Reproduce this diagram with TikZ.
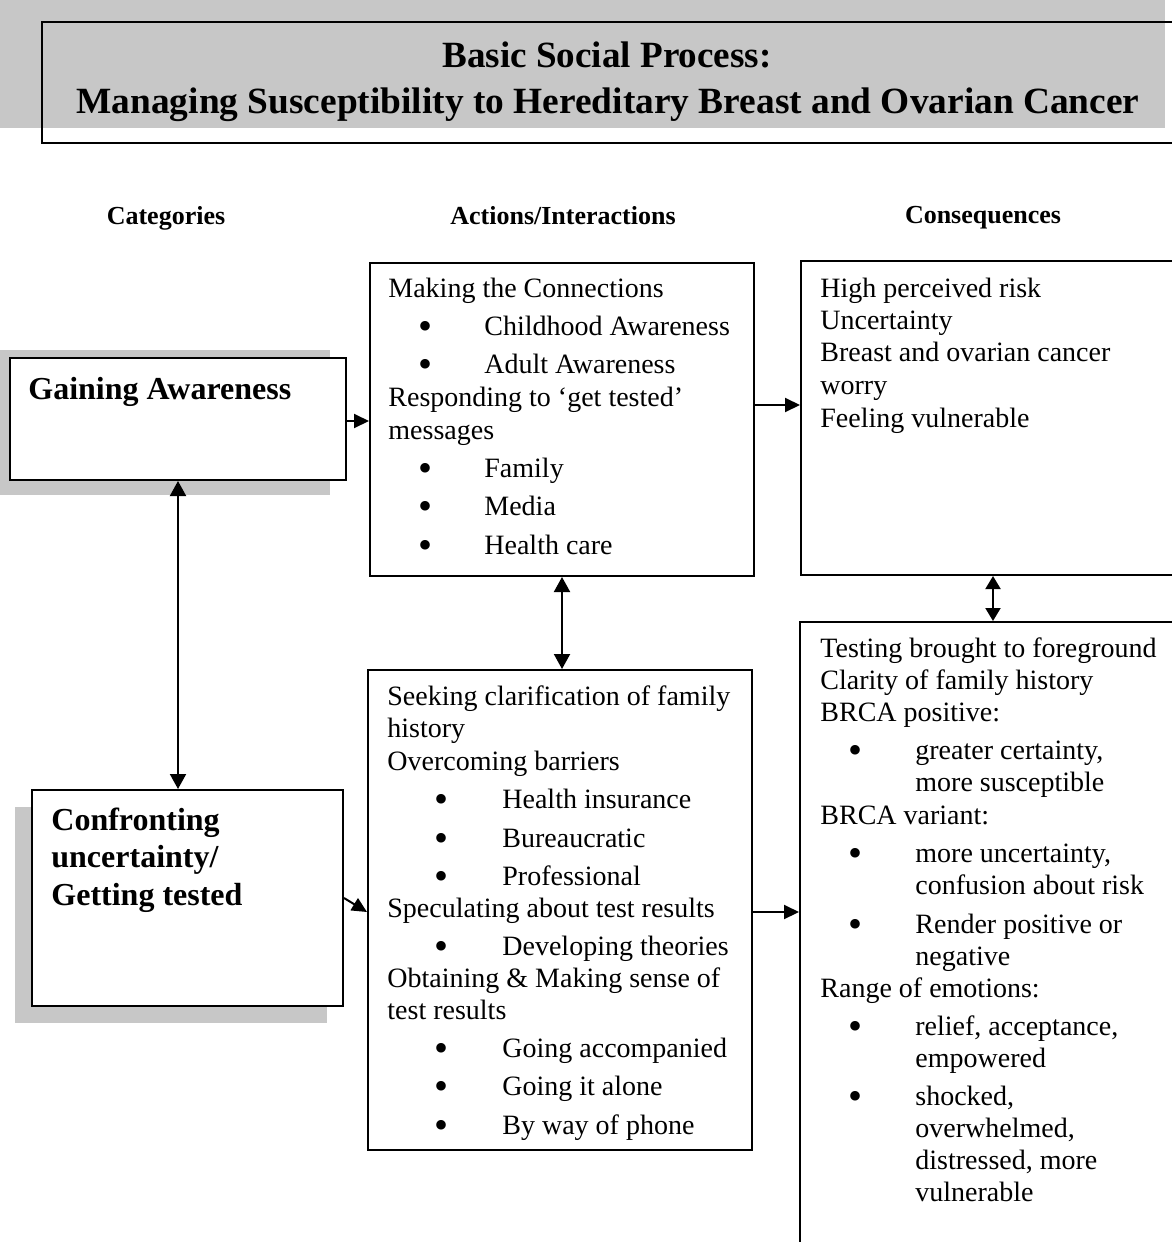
\documentclass[tikz,border=0pt]{standalone}
\usepackage{fontspec}
\usepackage{graphicx}
\setmainfont{Liberation Serif}
\usetikzlibrary{arrows.meta,fit}
\begin{document}
\begin{tikzpicture}[x=0.5pt,y=-0.5pt,
 box/.style={draw, line width=1pt, fill=white, inner sep=0pt},
 txt/.style={anchor=base west, inner sep=0pt, font=\fontsize{14}{16}\selectfont},
 bul/.style={anchor=base, inner sep=0pt, yshift=-2pt, font=\fontsize{20}{22}\selectfont},
 hdr/.style={anchor=base, inner sep=0pt, font=\fontsize{13}{15}\selectfont\bfseries},
 cat/.style={anchor=base west, inner sep=0pt, font=\fontsize{16}{18}\selectfont\bfseries},
 arr/.style={line width=1pt, -{Triangle[length=7.5pt,width=7pt]}},
 darr/.style={line width=1pt, {Triangle[length=7.5pt,width=8pt]}-{Triangle[length=7.5pt,width=8pt]}},
 sdarr/.style={line width=1pt, {Triangle[length=6.5pt,width=7.5pt]}-{Triangle[length=6.5pt,width=7.5pt]}},
 shade/.style={fill=black!22, draw=none}]
\useasboundingbox (0,0) rectangle (1172,1242);
\clip (0,0) rectangle (1172,1242);
% shading
\fill[shade] (0,0) rectangle (1165,128);
\fill[shade] (0,350) rectangle (330,495);
\fill[shade] (15,807) rectangle (327,1023);
% title
\node[draw, line width=1.3pt, inner sep=0pt, fit={(42,22) (1200,143)}] (title) {};
\node[anchor=base, inner sep=0pt] (t1) at (607,68) {\resizebox{164.5pt}{\height}{\fontsize{18.5}{20}\selectfont\bfseries Basic Social Process:}};
\node[anchor=base, inner sep=0pt] (t2) at (608,113) {\resizebox{531.5pt}{\height}{\fontsize{18.5}{20}\selectfont\bfseries Managing Susceptibility to Hereditary Breast and Ovarian Cancer}};
% headers
\node[hdr] (h1) at (166,224) {Categories};
\node[hdr] (h2) at (563,224) {Actions/Interactions};
\node[hdr] (h3) at (983,223) {Consequences};
% boxes
\node[box, fit={(10,358) (346,480)}] (gain) {};
\node[box, fit={(32,790) (343,1006)}] (conf) {};
\node[box, fit={(370,263) (754,576)}] (act1) {};
\node[box, fit={(368,670) (752,1150)}] (act2) {};
\node[box, fit={(801,261) (1185,575)}] (cons1) {};
\node[box, fit={(800,622) (1186,1270)}] (cons2) {};
% category texts
\node[cat] (g1) at (28,399) {Gaining Awareness};
\node[cat] (c1) at (51,830) {Confronting};
\node[cat] (c2) at (51,867) {uncertainty/};
\node[cat] (c3) at (51,905) {Getting tested};
% actions 1
\node[txt] (a1) at (388,297) {Making the Connections};
\node[bul] (ab1) at (425,335) {•};
\node[txt] (a2) at (484,335) {Childhood Awareness};
\node[bul] (ab2) at (425,373) {•};
\node[txt] (a3) at (484,373) {Adult Awareness};
\node[txt] (a4) at (388,406) {Responding to ‘get tested’};
\node[txt] (a5) at (388,439) {messages};
\node[bul] (ab3) at (425,477) {•};
\node[txt] (a6) at (484,477) {Family};
\node[bul] (ab4) at (425,515) {•};
\node[txt] (a7) at (484,515) {Media};
\node[bul] (ab5) at (425,554) {•};
\node[txt] (a8) at (484,554) {Health care};
% consequences 1
\node[txt] (k1) at (820,297) {High perceived risk};
\node[txt] (k2) at (820,329) {Uncertainty};
\node[txt] (k3) at (820,361) {Breast and ovarian cancer};
\node[txt] (k4) at (820,394) {worry};
\node[txt] (k5) at (820,427) {Feeling vulnerable};
% actions 2
\node[txt] (b1) at (387,705) {Seeking clarification of family};
\node[txt] (b2) at (387,737) {history};
\node[txt] (b3) at (387,770) {Overcoming barriers};
\node[bul] (bb1) at (441,808) {•};
\node[txt] (b4) at (502,808) {Health insurance};
\node[bul] (bb2) at (441,847) {•};
\node[txt] (b5) at (502,847) {Bureaucratic};
\node[bul] (bb3) at (441,885) {•};
\node[txt] (b6) at (502,885) {Professional};
\node[txt] (b7) at (387,917) {Speculating about test results};
\node[bul] (bb4) at (441,955) {•};
\node[txt] (b8) at (502,955) {Developing theories};
\node[txt] (b9) at (387,987) {Obtaining \& Making sense of};
\node[txt] (b10) at (387,1019) {test results};
\node[bul] (bb5) at (441,1057) {•};
\node[txt] (b11) at (502,1057) {Going accompanied};
\node[bul] (bb6) at (441,1095) {•};
\node[txt] (b12) at (502,1095) {Going it alone};
\node[bul] (bb7) at (441,1134) {•};
\node[txt] (b13) at (502,1134) {By way of phone};
% consequences 2
\node[txt] (m1) at (820,657) {Testing brought to foreground};
\node[txt] (m2) at (820,689) {Clarity of family history};
\node[txt] (m3) at (820,721) {BRCA positive:};
\node[bul] (mb1) at (855,759) {•};
\node[txt] (m4) at (915,759) {greater certainty,};
\node[txt] (m5) at (915,791) {more susceptible};
\node[txt] (m6) at (820,824) {BRCA variant:};
\node[bul] (mb2) at (855,862) {•};
\node[txt] (m7) at (915,862) {more uncertainty,};
\node[txt] (m8) at (915,894) {confusion about risk};
\node[bul] (mb3) at (855,933) {•};
\node[txt] (m9) at (915,933) {Render positive or};
\node[txt] (m10) at (915,965) {negative};
\node[txt] (m11) at (820,997) {Range of emotions:};
\node[bul] (mb4) at (855,1035) {•};
\node[txt] (m12) at (915,1035) {relief, acceptance,};
\node[txt] (m13) at (915,1067) {empowered};
\node[bul] (mb5) at (855,1105) {•};
\node[txt] (m14) at (915,1105) {shocked,};
\node[txt] (m15) at (915,1137) {overwhelmed,};
\node[txt] (m16) at (915,1169) {distressed, more};
\node[txt] (m17) at (915,1201) {vulnerable};
% connectors
\draw[arr] ([yshift=-1pt]gain.east) -- ([yshift=-1pt]gain.east -| act1.west);
\draw[arr] (conf.east) -- ([yshift=-7pt]conf.east -| act2.west);
\draw[arr] ([yshift=7.25pt]act1.east) -- ([yshift=7.25pt]act1.east -| cons1.west);
\draw[arr] ([yshift=-1pt]act2.east) -- ([yshift=-1pt]act2.east -| cons2.west);
\draw[darr] (gain.south) -- (gain.south |- conf.north);
\draw[darr] (act1.south) -- (act1.south |- act2.north);
\draw[sdarr] (cons1.south) -- (cons1.south |- cons2.north);
\end{tikzpicture}
\end{document}
